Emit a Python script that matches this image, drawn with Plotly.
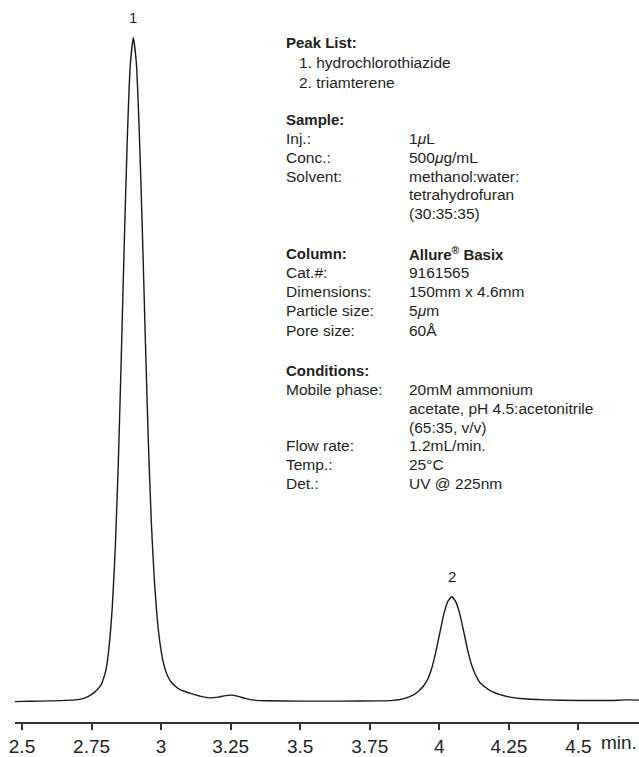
import plotly.graph_objects as go

# ---- data (time in min, signal in arbitrary units) ----
time_min = [2.4712, 2.5, 2.5647, 2.6366, 2.6905, 2.7157, 2.7372, 2.7588,
            2.7814, 2.7922, 2.8030, 2.8138, 2.8246, 2.8354, 2.8462, 2.8569,
            2.8677, 2.8785, 2.8893, 2.9001, 2.9109, 2.9216, 2.9324, 2.9432,
            2.9540, 2.9648, 2.9756, 2.9863, 2.9971, 3.0079, 3.0223, 3.0367,
            3.0510, 3.0715, 3.1039, 3.1398, 3.1758, 3.2045, 3.2261, 3.2538,
            3.2764, 3.3052, 3.3339, 3.3807, 3.4993, 3.6431, 3.7868, 3.8336,
            3.8695, 3.9054, 3.9270, 3.9425, 3.9583, 3.9727, 3.9870, 4.0014,
            4.0158, 4.0302, 4.0446, 4.0589, 4.0733, 4.0877, 4.1021, 4.1165,
            4.1308, 4.1452, 4.1607, 4.1894, 4.2182, 4.2541, 4.2901, 4.3835,
            4.5021, 4.6136, 4.6711, 4.7178]
signal = [-0.5, -0.3, 0, 0.5, 1.2, 2.2, 4.5, 8.5,
          15, 22, 33, 57, 95, 155, 240, 347,
          462, 566, 640, 667, 642, 572, 475, 365,
          262, 180, 122, 82, 56, 39, 26, 19,
          15, 11, 8, 5, 3.3, 4, 5.3, 6,
          4.8, 2.5, 1, 0.3, 0, 0, 0.2, 0.7,
          2.3, 6, 10.5, 15, 22, 33, 49, 68,
          87, 100, 105, 100, 88, 70, 51, 36,
          26, 19, 15, 9.5, 6.5, 4, 2.6, 1.2,
          0.6, 0.6, 1.2, 1]

peak_labels = ["1", "2"]
peak_times = [2.9001, 4.0446]
peak_heights = [667, 105]

tick_vals = [2.5, 2.75, 3.0, 3.25, 3.5, 3.75, 4.0, 4.25, 4.5]
tick_text = ["2.5", "2.75", "3", "3.25", "3.5", "3.75", "4", "4.25", "4.5"]
axis_unit = "min."

info_headers = ["Peak List:", "Sample:", "Column:", "Conditions:"]
peak_list = ["1. hydrochlorothiazide", "2. triamterene"]
sample_rows = [("Inj.:", "1<i>μ</i>L"), ("Conc.:", "500<i>μ</i>g/mL"),
               ("Solvent:", "methanol:water:"), ("", "tetrahydrofuran"),
               ("", "(30:35:35)")]
column_name = "Allure<sup>®</sup> Basix"
column_rows = [("Cat.#:", "9161565"), ("Dimensions:", "150mm x 4.6mm"),
               ("Particle size:", "5<i>μ</i>m"), ("Pore size:", "60Å")]
condition_rows = [("Mobile phase:", "20mM ammonium"),
                  ("", "acetate, pH 4.5:acetonitrile"),
                  ("", "(65:35, v/v)"), ("Flow rate:", "1.2mL/min."),
                  ("Temp.:", "25°C"), ("Det.:", "UV @ 225nm")]

# ---- layout geometry (pixels) ----
W, H = 639, 757
ML, MR, MT, MB = 15, 0, 0, 31
PW, PH = W - ML - MR, H - MT - MB

def px(x):
    return (x - ML) / PW

def py(y):
    return (PH + MT - y) / PH

FONT = "Liberation Sans, Arial, sans-serif"
BOLD = "Liberation Sans, Arial, sans-serif"
TXT = "#231f20"
FS = 15.5

fig = go.Figure()
fig.add_trace(go.Scatter(x=time_min, y=signal, mode="lines",
                         line=dict(color="#1a1a1a", width=1.4, shape="spline", smoothing=0.5),
                         hoverinfo="skip", showlegend=False))

ann = []
for lab, t, h in zip(peak_labels, peak_times, peak_heights):
    ann.append(dict(x=t, y=h, xref="x", yref="y", text=lab, showarrow=False,
                    yshift=20, font=dict(family=FONT, size=15, color=TXT)))

def add(text, x, y, bold=False, size=FS):
    ann.append(dict(x=px(x), y=py(y), xref="paper", yref="paper", text=text,
                    showarrow=False, xanchor="left", yanchor="middle",
                    font=dict(family=BOLD if bold else FONT, size=size,
                              color=TXT, weight="bold" if bold else "normal")))

LX, VX, IX = 284, 407, 297
add(info_headers[0], LX, 43, bold=True, size=15)
for i, s in enumerate(peak_list):
    add(s, IX, 63 + 19.5 * i)

add(info_headers[1], LX, 120, bold=True, size=15)
for i, (a, b) in enumerate(sample_rows):
    y = 139 + 19 * i
    if a:
        add(a, LX, y)
    add(b, VX, y)

add(info_headers[2], LX, 255, bold=True, size=15)
add(column_name, VX, 255, bold=True, size=15)
for i, (a, b) in enumerate(column_rows):
    y = 274 + 19.3 * i
    add(a, LX, y)
    add(b, VX, y)

add(info_headers[3], LX, 373, bold=True, size=15)
for i, (a, b) in enumerate(condition_rows):
    y = 392 + 18.8 * i
    if a:
        add(a, LX, y)
    add(b, VX, y)

ann.append(dict(x=px(619), y=py(747), xref="paper", yref="paper", text=axis_unit,
                showarrow=False, xanchor="center", yanchor="middle",
                font=dict(family=FONT, size=19, color=TXT)))

fig.update_layout(
    width=W, height=H,
    margin=dict(l=ML, r=MR, t=MT, b=MB),
    paper_bgcolor="white", plot_bgcolor="white",
    annotations=ann,
    xaxis=dict(range=[2.4748, 4.7178], tickvals=tick_vals, ticktext=tick_text,
               showgrid=False, zeroline=False, showline=True, linecolor="#333",
               linewidth=1.5, ticks="outside", ticklen=6, tickwidth=1.5,
               tickcolor="#333", tickfont=dict(family=FONT, size=19, color=TXT),
               fixedrange=True),
    yaxis=dict(range=[-21, 705], visible=False, fixedrange=True),
)

fig.write_html("out.html", config={"displayModeBar": False},
               post_script="document.body.style.margin='0';document.body.style.padding='0';"
                           "document.documentElement.style.overflow='hidden';")
